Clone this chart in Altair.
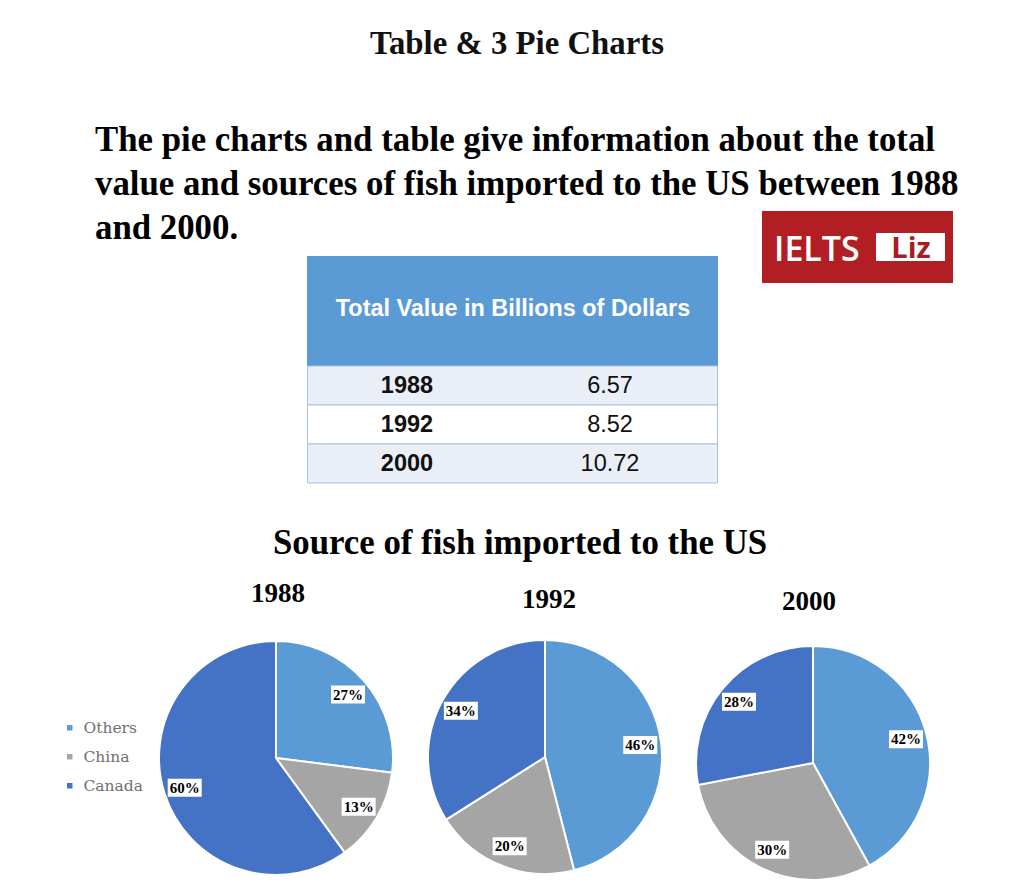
import altair as alt
import pandas as pd

# ---------------- data ----------------
years = ["1988", "1992", "2000"]
totals = ["6.57", "8.52", "10.72"]
sources = ["Others", "China", "Canada"]
source_colors = ["#5b9bd5", "#a5a5a5", "#4472c4"]
shares_1988 = [27, 13, 60]
shares_1992 = [46, 20, 34]
shares_2000 = [42, 30, 28]

page_title = "Table & 3 Pie Charts"
intro_lines = [
    "The pie charts and table give information about the total",
    "value and sources of fish imported to the US between 1988",
    "and 2000.",
]
table_header = "Total Value in Billions of Dollars"
pie_title = "Source of fish imported to the US"

# ---------------- tables built from the arrays ----------------
pie_rows = []
for y, vals in zip(years, [shares_1988, shares_1992, shares_2000]):
    for i, (s, v) in enumerate(zip(sources, vals)):
        pie_rows.append({"year": y, "source": s, "share": v, "order": i})
pie_df = pd.DataFrame(pie_rows)

table_df = pd.DataFrame({"year": years, "total": totals, "idx": list(range(len(years)))})

SERIF = "Liberation Serif"

def text_layer(txt, x, y, size, font=SERIF, weight="bold", color="#111111", align="center", baseline="alphabetic"):
    return alt.Chart(pd.DataFrame({"t": [txt]})).mark_text(
        font=font, fontSize=size, fontWeight=weight, color=color, align=align, baseline=baseline
    ).encode(x=alt.value(x), y=alt.value(y), text="t:N")

layers = []

# page title and intro
layers.append(text_layer(page_title, 517, 54, 32.8))
for i, line in enumerate(intro_lines):
    layers.append(text_layer(line, 95, 151 + 44 * i, 34.8, align="left", color="#000000"))

# logo
logo_df = pd.DataFrame({"k": ["logo"]})
layers.append(alt.Chart(logo_df).mark_rect(color="#b11f25").encode(
    x=alt.value(762), x2=alt.value(953), y=alt.value(211), y2=alt.value(283)))
layers.append(alt.Chart(logo_df).mark_rect(color="#ffffff").encode(
    x=alt.value(876), x2=alt.value(945), y=alt.value(233), y2=alt.value(261)))
layers.append(text_layer("IELTS", 774, 261, 34, font="Open Sans", weight=600, color="#ffffff", align="left"))
layers.append(text_layer("Liz", 911, 258, 29, font="Open Sans", weight="bold", color="#a81c22"))

# table header
layers.append(alt.Chart(logo_df).mark_rect(color="#5b9bd5").encode(
    x=alt.value(307), x2=alt.value(718), y=alt.value(256), y2=alt.value(366)))
layers.append(text_layer(table_header, 513, 309, 23.4, font="Liberation Sans", color="#ffffff", baseline="middle"))

# table rows
ROW_TOP, ROW_H = 366, 39
rows = alt.Chart(table_df).transform_calculate(
    y0=f"{ROW_TOP} + datum.idx * {ROW_H}",
    y1=f"{ROW_TOP} + (datum.idx + 1) * {ROW_H}",
    ym=f"{ROW_TOP} + (datum.idx + 0.5) * {ROW_H}",
    fillc="datum.idx % 2 == 0 ? '#e9eef7' : '#ffffff'",
)
layers.append(rows.mark_rect(stroke="#a8c3e3", strokeWidth=1).encode(
    x=alt.value(307.5), x2=alt.value(717.5),
    y=alt.Y("y0:Q", scale=None), y2="y1:Q",
    fill=alt.Fill("fillc:N", scale=None)))
layers.append(rows.mark_text(font="Liberation Sans", fontSize=23.5, fontWeight="bold", color="#111111", baseline="middle").encode(
    x=alt.value(407), y=alt.Y("ym:Q", scale=None), text="year:N"))
layers.append(rows.mark_text(font="Liberation Sans", fontSize=23.5, color="#111111", baseline="middle").encode(
    x=alt.value(610), y=alt.Y("ym:Q", scale=None), text="total:N"))

# pie section titles
layers.append(text_layer(pie_title, 520, 554, 34.8, color="#000000"))
pie_pos = {"1988": (276, 758, 278, 602), "1992": (545, 757, 549, 608), "2000": (813, 763, 809, 610)}
R = 117
LR = 96
for y in years:
    cx, cy, tx, ty = pie_pos[y]
    layers.append(text_layer(y, tx, ty, 27, color="#000000"))
    base = alt.Chart(pie_df).transform_filter(alt.datum.year == y)
    layers.append(base.mark_arc(radius=R, stroke="#ffffff", strokeWidth=2).encode(
        theta=alt.Theta("share:Q", stack=True),
        color=alt.Color("source:N", scale=alt.Scale(domain=sources, range=source_colors),
                        legend=alt.Legend(orient="none", legendX=62, legendY=720, title=None,
                                          symbolType="square", symbolSize=30, symbolStrokeWidth=0,
                                          labelFont="DejaVu Serif", labelFontSize=15.5,
                                          labelColor="#707070", rowPadding=12, labelOffset=6,
                                          padding=0)),
        order=alt.Order("order:Q"),
        x=alt.value(cx), y=alt.value(cy)))
    lab = base.transform_joinaggregate(tot="sum(share)").transform_window(
        cum="sum(share)", sort=[alt.SortField("order")]
    ).transform_calculate(
        mid="(datum.cum - datum.share / 2) / datum.tot * 2 * PI",
    ).transform_calculate(
        lx=f"{cx} + {LR} * sin(datum.mid)",
        ly=f"{cy} - {LR} * cos(datum.mid)",
    ).transform_calculate(
        bx0="datum.lx - 17", bx1="datum.lx + 17",
        by0="datum.ly - 9", by1="datum.ly + 9",
        lbl="datum.share + '%'",
    )
    layers.append(lab.mark_rect(color="#ffffff").encode(
        x=alt.X("bx0:Q", scale=None), x2="bx1:Q",
        y=alt.Y("by0:Q", scale=None), y2="by1:Q"))
    layers.append(lab.mark_text(font=SERIF, fontSize=15, fontWeight="bold", color="#000000", baseline="middle").encode(
        x=alt.X("lx:Q", scale=None), y=alt.Y("ly:Q", scale=None), text="lbl:N"))

chart = alt.layer(*layers).properties(
    width=1036, height=890, padding=0, autosize="none", background="#ffffff"
).configure_view(stroke=None)

chart.save("out.html", embed_options={"renderer": "svg", "actions": False})
